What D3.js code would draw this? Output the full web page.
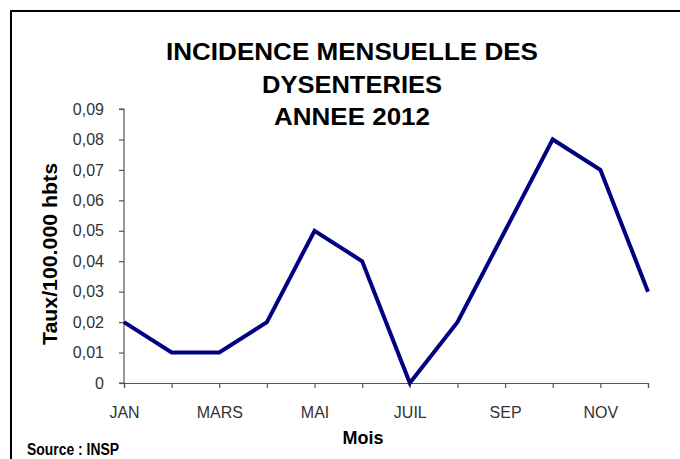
<!DOCTYPE html>
<html>
<head>
<meta charset="utf-8">
<script src="https://cdn.jsdelivr.net/npm/d3@7"></script>
<style>
  body { margin: 0; background: #fff; }
  text { font-family: "Liberation Sans", Arial, sans-serif; }
</style>
</head>
<body>
<svg id="chart" width="680" height="459"></svg>
<script>
var months = ["JAN", "FEV", "MARS", "AVR", "MAI", "JUIN", "JUIL", "AOUT", "SEP", "OCT", "NOV", "DEC"];
var rates = [0.02, 0.01, 0.01, 0.02, 0.05, 0.04, 0, 0.02, 0.05, 0.08, 0.07, 0.03];
var shownMonths = ["JAN", "MARS", "MAI", "JUIL", "SEP", "NOV"];
var yTicks = [0, 0.01, 0.02, 0.03, 0.04, 0.05, 0.06, 0.07, 0.08, 0.09];
var titleLines = ["INCIDENCE MENSUELLE DES", "DYSENTERIES", "ANNEE 2012"];

var svg = d3.select("#chart");

// outer frame, runs off right and bottom like the source image
svg.append("rect")
	.attr("x", 11).attr("y", 11)
	.attr("width", 700).attr("height", 480)
	.attr("fill", "none")
	.attr("stroke", "#000")
	.attr("stroke-width", 2);

var x = d3.scalePoint().domain(months).range([124, 648]);
var y = d3.scaleLinear().domain([0, 0.09]).range([383, 109]);

var fr = d3.formatLocale({ decimal: ",", thousands: ".", grouping: [3], currency: ["", "€"] });
var fmt = d => d === 0 ? "0" : fr.format(".2f")(d);

var xAxis = d3.axisBottom(x)
	.tickSize(5)
	.tickPadding(24)
	.tickFormat(d => shownMonths.includes(d) ? d : "");

var yAxis = d3.axisLeft(y)
	.tickValues(yTicks)
	.tickSize(5)
	.tickPadding(15)
	.tickFormat(fmt);

var gx = svg.append("g")
	.attr("transform", "translate(0,383)")
	.call(xAxis);

var gy = svg.append("g")
	.attr("transform", "translate(124,0)")
	.call(yAxis);

[gx, gy].forEach(g => {
	g.attr("font-size", null).attr("font-family", null);
	g.select(".domain").attr("stroke", "#555").attr("stroke-width", 1.2);
	g.selectAll(".tick line").attr("stroke", "#555").attr("stroke-width", 1.2);
	g.selectAll(".tick text")
		.attr("fill", "#333")
		.attr("font-size", 16);
});
gy.select(".domain").attr("d", "M-5,109H0V383H-5");
gx.selectAll(".tick text").attr("dy", "0.35em");

svg.append("path")
	.datum(rates)
	.attr("fill", "none")
	.attr("stroke", "#000080")
	.attr("stroke-width", 4)
	.attr("stroke-linejoin", "miter")
	.attr("d", d3.line((d, i) => x(months[i]), d => y(d)));

// title
var tw = [372, 180, 156];
svg.append("g").selectAll("text")
	.data(titleLines)
	.join("text")
	.attr("x", 352)
	.attr("y", (d, i) => 60 + i * 32.5)
	.attr("text-anchor", "middle")
	.attr("font-weight", "bold")
	.attr("font-size", 23)
	.attr("textLength", (d, i) => tw[i])
	.attr("lengthAdjust", "spacingAndGlyphs")
	.text(d => d);

svg.append("text")
	.attr("transform", "translate(57,254) rotate(-90)")
	.attr("text-anchor", "middle")
	.attr("font-weight", "bold")
	.attr("font-size", 20)
	.attr("textLength", 182)
	.attr("lengthAdjust", "spacingAndGlyphs")
	.text("Taux/100.000 hbts");

svg.append("text")
	.attr("x", 363).attr("y", 444)
	.attr("text-anchor", "middle")
	.attr("font-weight", "bold")
	.attr("font-size", 18)
	.attr("textLength", 41)
	.attr("lengthAdjust", "spacingAndGlyphs")
	.text("Mois");

svg.append("text")
	.attr("x", 27).attr("y", 455)
	.attr("font-size", 16)
	.attr("font-weight", "bold")
	.attr("textLength", 92)
	.attr("lengthAdjust", "spacingAndGlyphs")
	.text("Source : INSP");
</script>
</body>
</html>
